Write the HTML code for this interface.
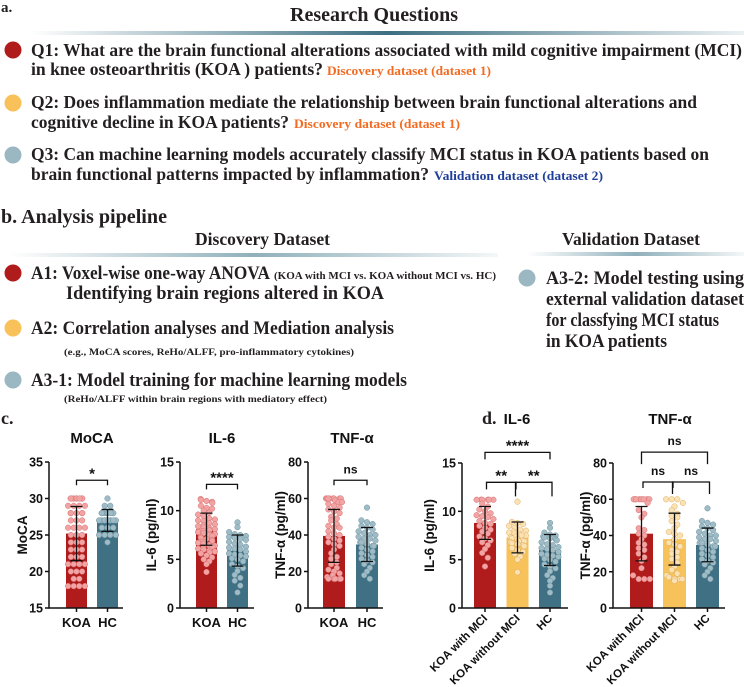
<!DOCTYPE html>
<html><head><meta charset="utf-8">
<style>
html,body{margin:0;padding:0;background:#fff;}
svg{display:block;}
.h{font-family:"Liberation Serif",serif;font-weight:bold;fill:#231f20;}
.s{font-family:"Liberation Sans",sans-serif;font-weight:bold;fill:#111;}
</style></head>
<body>
<svg id="fig" width="744" height="687" viewBox="0 0 744 687" xmlns="http://www.w3.org/2000/svg">
<defs>
<linearGradient id="g1" x1="0" x2="1" y1="0" y2="0">
<stop offset="0" stop-color="#3d6f82" stop-opacity="0"/><stop offset="0.5" stop-color="#3d6f82"/><stop offset="1" stop-color="#3d6f82" stop-opacity="0.1"/></linearGradient>
<linearGradient id="g2" x1="0" x2="1" y1="0" y2="0">
<stop offset="0" stop-color="#8fb0bb" stop-opacity="0"/><stop offset="0.5" stop-color="#8fb0bb"/><stop offset="1" stop-color="#8fb0bb" stop-opacity="0.1"/></linearGradient>
</defs>
<g>
<text class="h" x="1" y="12" font-size="15">a.</text>
<text class="h" x="290" y="21" font-size="20" textLength="168" lengthAdjust="spacingAndGlyphs">Research Questions</text>
<rect x="30" y="31" width="714" height="4" fill="url(#g1)"/>
<circle cx="13" cy="50" r="8.5" fill="#b01c1c"/>
<text class="h" x="31" y="56" font-size="17.5" textLength="711" lengthAdjust="spacingAndGlyphs">Q1: What are the brain functional alterations associated with mild cognitive impairment (MCI)</text>
<text class="h" x="31" y="75" font-size="17.5" textLength="292" lengthAdjust="spacingAndGlyphs">in knee osteoarthritis (KOA ) patients?</text>
<text class="h" x="327" y="75" font-size="12.5" style="fill:#f26b21" textLength="164" lengthAdjust="spacingAndGlyphs">Discovery dataset (dataset 1)</text>
<circle cx="13" cy="103" r="8.5" fill="#f8c15a"/>
<text class="h" x="31" y="108" font-size="17.5" textLength="666" lengthAdjust="spacingAndGlyphs">Q2: Does inflammation mediate the relationship between brain functional alterations and</text>
<text class="h" x="31" y="128" font-size="17.5" textLength="258" lengthAdjust="spacingAndGlyphs">cognitive decline in KOA patients?</text>
<text class="h" x="294" y="128" font-size="12.5" style="fill:#f26b21" textLength="166" lengthAdjust="spacingAndGlyphs">Discovery dataset (dataset 1)</text>
<circle cx="13" cy="155" r="8.5" fill="#9bb7c1"/>
<text class="h" x="31" y="160" font-size="17.5" textLength="678" lengthAdjust="spacingAndGlyphs">Q3: Can machine learning models accurately classify MCI status in KOA patients based on</text>
<text class="h" x="31" y="180" font-size="17.5" textLength="398" lengthAdjust="spacingAndGlyphs">brain functional patterns impacted by inflammation?</text>
<text class="h" x="434" y="180" font-size="12.5" style="fill:#1f3f99" textLength="169" lengthAdjust="spacingAndGlyphs">Validation dataset (dataset 2)</text>
</g>
<g>
<text class="h" x="1" y="223" font-size="20" textLength="166" lengthAdjust="spacingAndGlyphs">b. Analysis pipeline</text>
<text class="h" x="195" y="245" font-size="18" textLength="135" lengthAdjust="spacingAndGlyphs">Discovery Dataset</text>
<rect x="8" y="253" width="490" height="4" fill="url(#g2)"/>
<text class="h" x="562" y="245" font-size="18" textLength="138" lengthAdjust="spacingAndGlyphs">Validation Dataset</text>
<rect x="527" y="252" width="217" height="4" fill="url(#g2)"/>
<circle cx="13" cy="273" r="8.5" fill="#b01c1c"/>
<text class="h" x="31" y="279" font-size="18.5" textLength="239" lengthAdjust="spacingAndGlyphs">A1: Voxel-wise one-way ANOVA</text>
<text class="h" x="274" y="279" font-size="10.5" textLength="222" lengthAdjust="spacingAndGlyphs">(KOA with MCI vs. KOA without MCI vs. HC)</text>
<text class="h" x="66" y="299" font-size="18.5" textLength="318" lengthAdjust="spacingAndGlyphs">Identifying brain regions altered in KOA</text>
<circle cx="13" cy="328" r="8.5" fill="#f8c15a"/>
<text class="h" x="31" y="334" font-size="18.5" textLength="363" lengthAdjust="spacingAndGlyphs">A2: Correlation analyses and Mediation analysis</text>
<text class="h" x="64" y="355" font-size="9.5" textLength="290" lengthAdjust="spacingAndGlyphs">(e.g., MoCA scores, ReHo/ALFF, pro-inflammatory cytokines)</text>
<circle cx="13" cy="380" r="8.5" fill="#9bb7c1"/>
<text class="h" x="31" y="386" font-size="18.5" textLength="376" lengthAdjust="spacingAndGlyphs">A3-1: Model training for machine learning models</text>
<text class="h" x="64" y="402" font-size="9.5" textLength="263" lengthAdjust="spacingAndGlyphs">(ReHo/ALFF within brain regions with mediatory effect)</text>
<circle cx="527" cy="278" r="8.5" fill="#9bb7c1"/>
<text class="h" x="546" y="284" font-size="18.5" textLength="198" lengthAdjust="spacingAndGlyphs">A3-2: Model testing using</text>
<text class="h" x="546" y="305" font-size="18.5" textLength="198" lengthAdjust="spacingAndGlyphs">external validation dataset</text>
<text class="h" x="546" y="326" font-size="18.5" textLength="173" lengthAdjust="spacingAndGlyphs">for classfying MCI status</text>
<text class="h" x="546" y="347" font-size="18.5" textLength="121" lengthAdjust="spacingAndGlyphs">in KOA patients</text>
</g>
<text class="h" x="1" y="424" font-size="18">c.</text>
<text class="h" x="482" y="424" font-size="18">d.</text>
<g id="charts"></g>
</svg>
<script>
// ---- data ----
const cCategories = ["KOA", "HC"];
const dCategories = ["KOA with MCI", "KOA without MCI", "HC"];
const mocaMeans = [25.2, 27.0];
const mocaSD = [3.7, 1.5];
const mocaKOA = [30,30,30,30,30,30,30,30,30,29,29,29,28,28,28,28,27,27,27,26,26,26,26,25,25,25,24,24,24,23,23,23,22,22,22,21,21,21,21,20,20,20,19,19,18,18,18,18,29,28];
const mocaHC = [30,29,29,28,28,28,28,28,28,28,28,27,27,27,27,27,27,27,27,26,26,26,26,26,26,25,25,25,25,24,28,27,26,27];
const il6Means = [8.1, 5.9];
const il6SD = [1.65, 1.6];
const il6KOA = [11.2,11.1,11,10.9,10.8,10.5,10.3,10,9.8,9.6,9.4,9.2,9,8.9,8.7,8.6,8.5,8.4,8.2,8.1,8,7.9,7.8,7.7,7.6,7.5,7.4,7.3,7.2,7.1,7,6.9,6.8,6.7,6.6,6.5,6.4,6.3,6.2,6.1,6,5.9,5.8,5.7,5.6,5.4,5.2,5,4.8,4.5,3.7,8.3,7.6,6.8,9.1,10.2,7.9,6.4];
const il6HC = [8.8,8.3,7.8,7.6,7.5,7.4,7.3,7.2,7,6.8,6.6,6.5,6.3,6.1,6,5.8,5.6,5.5,5.3,5.1,5,4.8,4.5,4.3,4.1,3.8,3.4,3.1,2.8,2.3,1.6,7.1,6.2,5.4];
const tnfMeans = [39.5, 34.8];
const tnfSD = [14.5, 9.3];
const tnfKOA = [60,60,60,60,60,60,60,60,59,58,57,56,55,54,53,52,50,49,48,46,45,44,42,41,40,39,38,37,36,35,34,32,30,28,27,25,24,22,21,20,19,18,17,16,16,16,16,16,58,44];
const tnfHC = [55,48,47,46,45,44,43,42,41,40,40,39,38,38,37,36,35,34,34,33,32,31,30,29,28,27,26,25,24,22,20,18,16,36];
const dIl6Means = [8.8, 7.3, 6.0];
const dIl6SD = [1.7, 1.6, 1.6];
const dIl6MCI = [11.2,11.2,11.2,11.2,11.2,11.2,10.8,10.5,10.2,10,9.8,9.6,9.4,9.2,9,8.8,8.7,8.5,8.3,8.1,7.9,7.7,7.4,7.2,7,6.8,6.5,6.1,5.7,5.2,4.3,9.5];
const dIl6Non = [11,8.9,8.8,8.7,8.5,8.3,8.1,7.9,7.8,7.7,7.6,7.5,7.4,7.3,7.2,7.1,7,6.9,6.8,6.7,6.6,6.5,6.4,6.2,6,5.8,5.6,5.3,5,3.7,7.5,6.9,8];
const dIl6HC = il6HC;
const dTnfMeans = [41, 38, 34.8];
const dTnfSD = [15, 14.3, 9.3];
const dTnfMCI = [60,60,60,60,60,60,60,60,58,54,52,50,44,43,41,40,38,36,35,32,30,28,26,22,18,16,16,16,33];
const dTnfNon = [60,60,60,58,56,54,52,51,50,48,46,44,42,41,40,38,36,35,34,32,30,28,27,25,23,21,19,18,17,16,16,16,15,31];
const dTnfHC = tnfHC;
const fills = ["#b01c1c","#3f7083"];
const fills3 = ["#b01c1c","#f7c25a","#3f7083"];
const dotFill = {"#b01c1c":"#f2a3a3","#f7c25a":"#fbe2b4","#3f7083":"#9fbcc6"};
const dotStroke = {"#b01c1c":"#d97373","#f7c25a":"#e0b060","#3f7083":"#6f95a3"};

const NS = "http://www.w3.org/2000/svg";
const root = document.getElementById("charts");
function el(tag, attrs, parent, txt){
  const e = document.createElementNS(NS, tag);
  for (const k in attrs) e.setAttribute(k, attrs[k]);
  if (txt !== undefined) e.textContent = txt;
  (parent||root).appendChild(e);
  return e;
}
function panel(o){
  const g = el("g", {});
  
  
  const y = v => o.bottom - (v - o.min) / (o.max - o.min) * (o.bottom - o.top);
  const cx = i => o.bx0 + o.bw/2 + i*o.step;
  if (o.title){
    const t = el("text", {x:o.tx, y:o.ty, "text-anchor":"middle", class:"s", "font-size":15}, g, o.title);
    
    
  }
  o.means.forEach((m,i)=>{
    const r = el("rect", {x:cx(i)-o.bw/2, y:y(m), width:o.bw, height:o.bottom-y(m), fill:o.fills[i]}, g);
    
    
  });
  o.points.forEach((arr,i)=>{
    const bins = {};
    const sorted = arr.slice().sort((a,b)=>b-a);
    sorted.forEach(v=>{const k=Math.round(y(v)/5.5); (bins[k]=bins[k]||[]).push(v);});
    Object.keys(bins).forEach(k=>{
      const vs = bins[k]; const n = vs.length;
      vs.forEach((v,j)=>{
        let off = (j-(n-1)/2)*5.6;
        const lim = o.bw/2-2;
        if (Math.abs(off)>lim) off = Math.sign(off)*(lim - (Math.abs(off)-lim)%lim);
        const c = el("circle", {cx:cx(i)+off, cy:y(v), r:2.8, fill:dotFill[o.fills[i]], stroke:dotStroke[o.fills[i]], "stroke-width":0.5}, g);
        
        
      });
    });
  });
  o.means.forEach((m,i)=>{
    const hi = y(m+o.sd[i]), lo = y(m-o.sd[i]);
    const p = el("path", {d:`M${cx(i)},${hi}V${lo}M${cx(i)-6},${hi}H${cx(i)+6}M${cx(i)-6},${lo}H${cx(i)+6}`, stroke:"#111", "stroke-width":1.3, fill:"none"}, g);
    
    
  });
  const ax = el("path", {d:`M${o.ax},${o.top}V${o.bottom}H${o.axEnd}`, stroke:"#111", "stroke-width":1.5, fill:"none"}, g);
  
  
  o.ticks.forEach(t=>{
    el("line", {x1:o.ax-4, x2:o.ax, y1:y(t), y2:y(t), stroke:"#111", "stroke-width":1.5}, g);
    const tl = el("text", {x:o.ax-6, y:y(t)+4.5, "text-anchor":"end", class:"s", "font-size":12.5}, g, String(t));
    
    
  });
  o.cats.forEach((c,i)=>{
    el("line", {x1:cx(i), x2:cx(i), y1:o.bottom, y2:o.bottom+4, stroke:"#111", "stroke-width":1.5}, g);
    let t;
    if (o.rot) t = el("text", {x:cx(i)+3, y:o.bottom+11, "text-anchor":"end", class:"s", "font-size":11.5, transform:`rotate(-45 ${cx(i)+3} ${o.bottom+11})`}, g, c);
    else t = el("text", {x:cx(i), y:o.bottom+19, "text-anchor":"middle", class:"s", "font-size":13}, g, c);
    
    
  });
  const yl = el("text", {x:0, y:0, "text-anchor":"middle", class:"s", "font-size":13.5, transform:`translate(${o.ylx},${(o.top+o.bottom)/2}) rotate(-90)`}, g, o.ylabel);
  
  
  o.brackets.forEach(b=>{
    const yt = y(b[2]);
    const p = el("path", {d:`M${cx(b[0])+(b[5]||0)},${yt+b[3]}V${yt}H${cx(b[1])-(b[5]||0)}V${yt+b[3]}`, stroke:"#111", "stroke-width":1.3, fill:"none"}, g);
    
    
    const t = el("text", {x:(cx(b[0])+cx(b[1]))/2, y:b[4]==="ns"?yt-7:yt-2, "text-anchor":"middle", class:"s", "font-size":b[4]==="ns"?12:15}, g, b[4]);
    
    
  });
}
panel({name:"moca-chart", title:"MoCA", tx:92, ty:443, cats:cCategories, means:mocaMeans, sd:mocaSD, points:[mocaKOA,mocaHC], fills:fills,
  min:15, max:35, top:462, bottom:608, ax:49, axEnd:123, bx0:66, bw:21, step:31, ticks:[15,20,25,30,35], ylabel:"MoCA", ylx:27,
  brackets:[[0,1,32.5,5,"*"]]});
panel({name:"il6-chart", title:"IL-6", tx:222, ty:443, cats:cCategories, means:il6Means, sd:il6SD, points:[il6KOA,il6HC], fills:fills,
  min:0, max:15, top:462, bottom:608, ax:180, axEnd:254, bx0:196, bw:21, step:31, ticks:[0,5,10,15], ylabel:"IL-6 (pg/ml)", ylx:156,
  brackets:[[0,1,12.7,5,"****"]]});
panel({name:"tnf-chart", title:"TNF-α", tx:352, ty:443, cats:cCategories, means:tnfMeans, sd:tnfSD, points:[tnfKOA,tnfHC], fills:fills,
  min:0, max:80, top:462, bottom:608, ax:308, axEnd:383, bx0:323, bw:22, step:33, ticks:[0,20,40,60,80], ylabel:"TNF-α (pg/ml)", ylx:285,
  brackets:[[0,1,70,5,"ns"]]});
panel({name:"d-il6-chart", title:"IL-6", tx:517, ty:424, cats:dCategories, means:dIl6Means, sd:dIl6SD, points:[dIl6MCI,dIl6Non,dIl6HC], fills:fills3,
  min:0, max:15, top:463, bottom:608, ax:462, axEnd:568, bx0:474, bw:22, step:32.5, ticks:[0,5,10,15], ylabel:"IL-6 (pg/ml)", ylx:434, rot:true,
  brackets:[[0,2,16.1,7,"****"],[0,1,13,7,"**",1.5],[1,2,13,14,"**",-2]]});
panel({name:"d-tnf-chart", title:"TNF-α", tx:670, ty:424, cats:dCategories, means:dTnfMeans, sd:dTnfSD, points:[dTnfMCI,dTnfNon,dTnfHC], fills:fills3,
  min:0, max:80, top:463, bottom:608, ax:613, axEnd:725, bx0:630, bw:23, step:33, ticks:[0,20,40,60,80], ylabel:"TNF-α (pg/ml)", ylx:590, rot:true,
  brackets:[[0,2,86,12,"ns"],[0,1,69.5,6,"ns",1.5],[1,2,69.5,12,"ns",-2]]});
</script>
</body></html>
